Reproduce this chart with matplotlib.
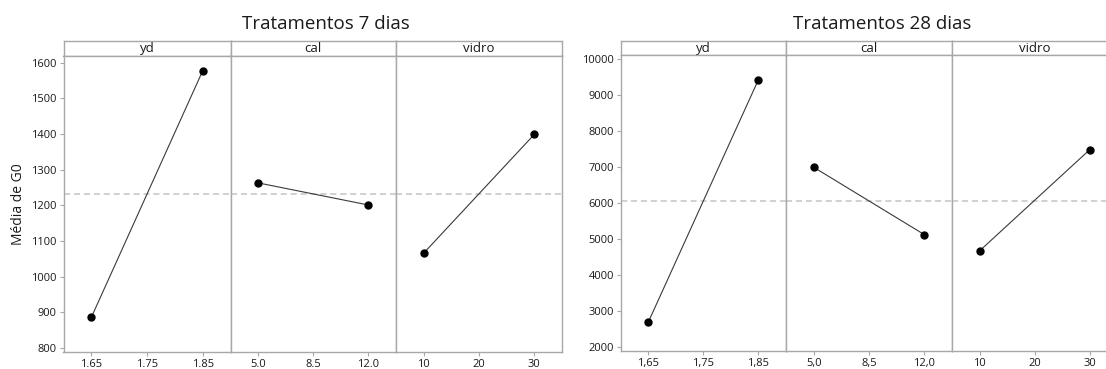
import matplotlib
matplotlib.use("Agg")
import matplotlib.pyplot as plt

plt.rcParams['font.family'] = ['Open Sans', 'DejaVu Sans']

fatores = ['yd', 'cal', 'vidro']
niveis = [[1.65, 1.85], [5.0, 12.0], [10, 30]]
ticks_x = [[1.65, 1.75, 1.85], [5.0, 8.5, 12.0], [10, 20, 30]]
rotulos_7 = [['1.65', '1.75', '1.85'], ['5.0', '8.5', '12.0'], ['10', '20', '30']]
rotulos_28 = [['1,65', '1,75', '1,85'], ['5,0', '8,5', '12,0'], ['10', '20', '30']]

medias_7 = [[886, 1577], [1263, 1201], [1066, 1399]]
medias_28 = [[2705, 9443], [7002, 5127], [4673, 7485]]
media_geral_7 = 1232
media_geral_28 = 6068

ticks_y_7 = [800, 900, 1000, 1100, 1200, 1300, 1400, 1500, 1600]
ticks_y_28 = [2000, 3000, 4000, 5000, 6000, 7000, 8000, 9000, 10000]

W, H = 1106, 369
cinza = '#a8a8a8'
texto = '#1a1a1a'

fig = plt.figure(figsize=(W / 100, H / 100), dpi=100)


def ret(x0, y0, x1, y1):
    # converte pixels (origem no topo) para fração da figura
    return [x0 / W, 1 - y1 / H, (x1 - x0) / W, (y1 - y0) / H]


def painel(bordas, topo, cab, base, medias, media_geral, ylim, ticks_y,
           rotulos, titulo, ylabel=None):
    for i in range(3):
        x0, x1 = bordas[i], bordas[i + 1]
        # cabeçalho
        hc = fig.add_axes(ret(x0, topo, x1, cab))
        hc.set_xticks([])
        hc.set_yticks([])
        for s in hc.spines.values():
            s.set_color(cinza)
            s.set_linewidth(1)
        hc.text(0.5, 0.45, fatores[i], ha='center', va='center', fontsize=9.5,
                color=texto, transform=hc.transAxes)

        ax = fig.add_axes(ret(x0, cab, x1, base))
        a, b = niveis[i]
        m = (b - a) * 0.25
        ax.set_xlim(a - m, b + m)
        ax.set_ylim(*ylim)
        ax.axhline(media_geral, color='#c4c4c4', lw=1.1, ls=(0, (4, 2.5)), zorder=1)
        ax.plot(niveis[i], medias[i], color='#3a3a3a', lw=0.8, zorder=2)
        ax.plot(niveis[i], medias[i], 'o', color='black', ms=5, zorder=3)
        ax.set_xticks(ticks_x[i])
        ax.set_xticklabels(rotulos[i])
        for s in ax.spines.values():
            s.set_color(cinza)
            s.set_linewidth(1)
        ax.tick_params(axis='x', length=3, color=cinza, labelsize=8,
                       labelcolor=texto, pad=2)
        if i == 0:
            ax.set_yticks(ticks_y)
            ax.tick_params(axis='y', length=3, color=cinza, labelsize=8,
                           labelcolor=texto, pad=2)
            if ylabel:
                ax.set_ylabel(ylabel, fontsize=10, color=texto, labelpad=4)
        else:
            ax.set_yticks([])
    xc = (bordas[0] + bordas[-1]) / 2
    fig.text(xc / W + 0.012, 1 - 24 / H, titulo, ha='center', va='center',
             fontsize=13.5, color=texto)


painel([63.5, 230.5, 396, 562], 40.5, 55.5, 352, medias_7, media_geral_7,
       (789, 1620), ticks_y_7, rotulos_7, 'Tratamentos 7 dias', 'Média de G0')
painel([621, 786, 952, 1117], 40.5, 54.5, 351, medias_28, media_geral_28,
       (1889, 10139), ticks_y_28, rotulos_28, 'Tratamentos 28 dias')

fig.savefig('out.png', dpi=100, facecolor='white')
